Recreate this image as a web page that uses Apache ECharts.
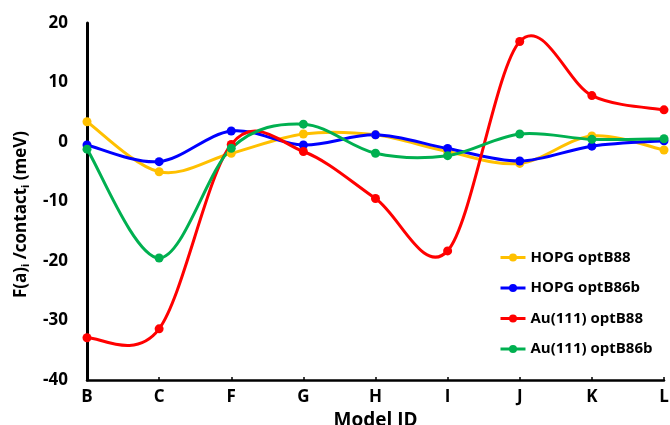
<!DOCTYPE html>
<html>
<head>
<meta charset="utf-8">
<script src="https://cdn.jsdelivr.net/npm/echarts@6/dist/echarts.min.js"></script>
<style>html,body{margin:0;padding:0;background:#fff}#c{width:670px;height:425px}</style>
</head>
<body>
<div id="c"></div>
<script>
const categories = ['B','C','F','G','H','I','J','K','L'];
const hopgOptB88 = [3.4, -5.0, -1.9, 1.35, 1.2, -1.6, -3.6, 1.0, -1.35];
const hopgOptB86b = [-0.5, -3.3, 1.85, -0.5, 1.2, -1.1, -3.2, -0.7, 0.2];
const auOptB88 = [-32.9, -31.4, -0.4, -1.6, -9.5, -18.3, 16.9, 7.8, 5.4];
const auOptB86b = [-1.2, -19.5, -1.05, 3.0, -1.9, -2.3, 1.35, 0.45, 0.55];
const yTicks = {min: -40, max: 20, interval: 10};

const font = '"Open Sans", sans-serif';

// Smooth curve (Catmull-Rom style, like spreadsheet smoothed lines) drawn per segment
function curveSeries(name, vals, color) {
  return {
    name: name, type: 'custom', z: 2, silent: true,
    data: vals.map((v, i) => [i, v]),
    encode: {x: 0, y: 1},
    renderItem: function (params, api) {
      const i = params.dataIndex;
      const n = vals.length;
      if (i >= n - 1) return null;
      const p = k => api.coord([Math.max(0, Math.min(n - 1, k)), vals[Math.max(0, Math.min(n - 1, k))]]);
      const p0 = p(i - 1), p1 = p(i), p2 = p(i + 1), p3 = p(i + 2);
      return {
        type: 'bezierCurve',
        shape: {
          x1: p1[0], y1: p1[1], x2: p2[0], y2: p2[1],
          cpx1: p1[0] + (p2[0] - p0[0]) / 6, cpy1: p1[1] + (p2[1] - p0[1]) / 6,
          cpx2: p2[0] - (p3[0] - p1[0]) / 6, cpy2: p2[1] - (p3[1] - p1[1]) / 6
        },
        style: {stroke: color, lineWidth: 3, fill: null, lineCap: 'round'}
      };
    }
  };
}
function pointSeries(name, vals, color) {
  return {
    name: name, type: 'line', data: vals, z: 3,
    symbol: 'circle', symbolSize: 9,
    lineStyle: {color: color, width: 3, opacity: 0},
    itemStyle: {color: color}
  };
}
const names = ['HOPG optB88', 'HOPG optB86b', 'Au(111) optB88', 'Au(111) optB86b'];
const colors = ['#FFC000', '#0000FF', '#FF0000', '#00B050'];
const valsAll = [hopgOptB88, hopgOptB86b, auOptB88, auOptB86b];
const series = [];
for (let k = 0; k < 4; k++) {
  series.push(pointSeries(names[k], valsAll[k], colors[k]));
}
for (let k = 0; k < 4; k++) {
  series.push(curveSeries(names[k], valsAll[k], colors[k]));
}

const chart = echarts.init(document.getElementById('c'));
chart.setOption({
  animation: false,
  grid: {left: 87, right: 6, top: 23, bottom: 45, containLabel: false, outerBoundsMode: 'none'},
  legend: {
    data: names,
    orient: 'vertical', left: 494, top: 245, itemGap: 15.5,
    itemWidth: 25, itemHeight: 10,
    lineStyle: {opacity: 1, width: 3},
    textStyle: {fontFamily: font, fontWeight: 'bold', fontSize: 15, color: '#000'}
  },
  xAxis: {
    type: 'category', data: categories, boundaryGap: false,
    axisLine: {onZero: false, lineStyle: {color: '#000', width: 2.5}},
    axisTick: {inside: true, length: 3, lineStyle: {color: '#000', width: 1.5}},
    axisLabel: {fontFamily: font, fontWeight: 'bold', fontSize: 17, color: '#000', margin: 9},
    name: 'Model ID', nameLocation: 'middle', nameGap: 27,
    nameTextStyle: {fontFamily: font, fontWeight: 'bold', fontSize: 19, color: '#000'}
  },
  yAxis: {
    type: 'value', min: yTicks.min, max: yTicks.max, interval: yTicks.interval,
    splitLine: {show: false},
    axisLine: {show: true, lineStyle: {color: '#000', width: 3}},
    axisTick: {show: false},
    axisLabel: {fontFamily: font, fontWeight: 'bold', fontSize: 17, color: '#000', margin: 19},
    name: 'F(a){s|i} /contact{s|i} (meV)', nameLocation: 'middle', nameGap: 56, nameRotate: 90,
    nameTextStyle: {
      fontFamily: font, fontWeight: 'bold', fontSize: 17, color: '#000',
      padding: [0, 26, 0, 0],
      rich: {s: {fontFamily: font, fontWeight: 'bold', fontSize: 11, color: '#000', verticalAlign: 'bottom', padding: [9,0,0,0]}}
    }
  },
  series: series
});
</script>
</body>
</html>
